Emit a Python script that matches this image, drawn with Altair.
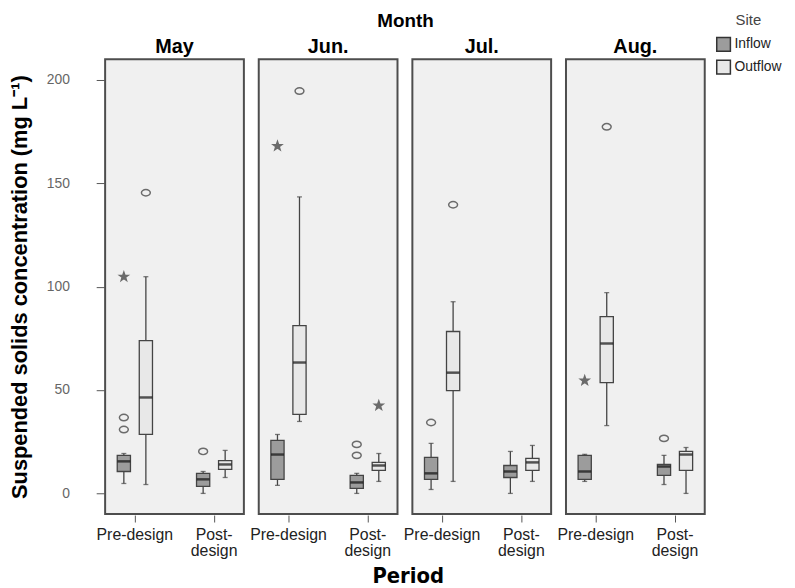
import altair as alt
import pandas as pd

months = ["May", "Jun.", "Jul.", "Aug."]
periods = ["Pre-design", "Post-design"]
sites = ["Inflow", "Outflow"]

# Box statistics (order per month: Pre/Inflow, Pre/Outflow, Post/Inflow, Post/Outflow)
box_month = ["May"] * 4 + ["Jun."] * 4 + ["Jul."] * 4 + ["Aug."] * 4
box_period = ["Pre-design", "Pre-design", "Post-design", "Post-design"] * 4
box_site = ["Inflow", "Outflow", "Inflow", "Outflow"] * 4
wlo = [4.8, 4.3, 0.0, 7.7, 3.9, 34.8, 0.0, 5.8, 1.9, 5.8, 0.0, 5.8, 5.8, 32.8, 4.3, 0.0]
q1 = [10.6, 28.5, 3.4, 11.6, 6.8, 38.2, 2.4, 11.1, 6.8, 49.7, 7.7, 11.1, 6.8, 53.6, 8.7, 11.1]
med = [15.5, 46.4, 6.8, 14.0, 18.8, 63.3, 5.3, 13.5, 9.7, 58.4, 10.6, 15.0, 10.6, 72.5, 13.0, 18.8]
q3 = [18.4, 73.9, 9.7, 15.9, 25.6, 81.1, 8.7, 15.0, 17.4, 78.3, 13.5, 16.9, 18.4, 85.5, 14.0, 20.3]
whi = [19.3, 104.8, 10.6, 20.8, 28.5, 143.4, 9.7, 19.3, 24.2, 92.7, 20.3, 23.2, 18.9, 97.1, 18.4, 22.2]

# Outliers (circle) and extremes (star)
out_month = ["May", "May", "May", "May", "May", "Jun.", "Jun.", "Jun.", "Jun.", "Jun.",
             "Jul.", "Jul.", "Aug.", "Aug.", "Aug."]
out_period = ["Pre-design", "Pre-design", "Pre-design", "Pre-design", "Post-design",
              "Pre-design", "Pre-design", "Post-design", "Post-design", "Post-design",
              "Pre-design", "Pre-design", "Pre-design", "Pre-design", "Post-design"]
out_site = ["Inflow", "Inflow", "Inflow", "Outflow", "Inflow",
            "Inflow", "Outflow", "Inflow", "Inflow", "Outflow",
            "Inflow", "Outflow", "Inflow", "Outflow", "Inflow"]
out_value = [36.7, 30.9, 104.8, 145.4, 20.3, 168.0, 194.6, 23.7, 18.4, 42.5,
             34.3, 139.6, 54.6, 177.3, 26.6]
out_kind = ["circle", "circle", "star", "circle", "circle", "star", "circle", "circle", "circle", "star",
            "circle", "circle", "star", "circle", "circle"]

box_df = pd.DataFrame({"Month": box_month, "Period": box_period, "Site": box_site,
                       "wlo": wlo, "q1": q1, "med": med, "q3": q3, "whi": whi, "type": "box"})
out_df = pd.DataFrame({"Month": out_month, "Period": out_period, "Site": out_site,
                       "value": out_value, "kind": out_kind, "type": "out"})
df = pd.concat([box_df, out_df], ignore_index=True)

STAR = ("M0,-1L0.235,-0.324L0.951,-0.309L0.38,0.124L0.588,0.809L0,0.4"
        "L-0.588,0.809L-0.38,0.124L-0.951,-0.309L-0.235,-0.324Z")
ELLIPSE = "M-1,0A1,0.72,0,1,1,1,0A1,0.72,0,1,1,-1,0Z"

x_enc = alt.X("Period:N", sort=periods, title=None,
              scale=alt.Scale(paddingInner=0.5, paddingOuter=0.125),
              axis=alt.Axis(labelAngle=0, domain=False, tickSize=7, tickColor="#555555",
                            labelColor="#222222", labelFontSize=16, labelPadding=5,
                            labelLineHeight=16,
                            labelExpr="datum.label == 'Post-design' ? ['Post-', 'design'] : datum.label"))
xo_enc = alt.XOffset("Site:N", sort=sites,
                     scale=alt.Scale(paddingInner=0.4, paddingOuter=0.1))
y_scale = alt.Scale(domain=[-10, 210], nice=False, zero=False)
y_axis = alt.Axis(values=[0, 50, 100, 150, 200], domain=False, tickSize=8, tickColor="#555555",
                  labelColor="#666666", labelFontSize=14, labelPadding=27,
                  title="Suspended solids concentration (mg L\u207b\u00b9)",
                  titleFontSize=22, titleFontWeight="bold", titleColor="#000000", titlePadding=15)

base = alt.Chart().encode(x=x_enc, xOffset=xo_enc)
boxes = base.transform_filter(alt.datum.type == "box")

whisker = boxes.mark_rule(color="#444444", strokeWidth=1.3).encode(
    y=alt.Y("wlo:Q", scale=y_scale, axis=y_axis), y2="whi:Q")
cap_lo = boxes.mark_tick(color="#444444", size=5, thickness=1.3).encode(y=alt.Y("wlo:Q"))
cap_hi = boxes.mark_tick(color="#444444", size=5, thickness=1.3).encode(y=alt.Y("whi:Q"))
bar = boxes.mark_bar(stroke="#444444", strokeWidth=1.3).encode(
    y=alt.Y("q1:Q"), y2="q3:Q",
    color=alt.Color("Site:N", sort=sites,
                    scale=alt.Scale(domain=sites, range=["#9c9c9c", "#e8e8e8"]),
                    legend=alt.Legend(title="Site", orient="none", legendX=616, legendY=-46)))
median = boxes.mark_tick(color="#111111", size=13, thickness=2.5).encode(y=alt.Y("med:Q"))
outl = base.transform_filter(alt.datum.type == "out").mark_point(
    filled=False, stroke="#333333", strokeWidth=1.5, size=80).encode(
    y=alt.Y("value:Q"),
    shape=alt.Shape("kind:N", scale=alt.Scale(domain=["circle", "star"], range=[ELLIPSE, STAR]),
                    legend=None),
    fill=alt.Fill("kind:N", scale=alt.Scale(domain=["circle", "star"], range=["transparent", "#333333"]),
                  legend=None))

layered = alt.layer(whisker, cap_lo, cap_hi, bar, median, outl, data=df).properties(
    width=140, height=459)

chart = layered.facet(
    column=alt.Column("Month:N", sort=months,
                      header=alt.Header(title="Month", titleFontSize=19, titleFontWeight="bold",
                                        titleColor="#000000", titlePadding=-4,
                                        labelFontSize=20, labelFontWeight="bold",
                                        labelColor="#000000", labelPadding=1))
).properties(
    padding={"left": 0, "top": 2, "right": 5, "bottom": 5},
    title=alt.TitleParams("Period", orient="bottom", anchor="middle", fontSize=22,
                          font="DejaVu Sans Condensed, Liberation Sans, sans-serif",
                          fontWeight="bold", color="#000000", offset=8, dx=13)
).configure_view(
    fill="#f0f0f0", stroke="#4d4d4d", strokeWidth=2
).configure_facet(spacing=13).configure_axis(
    grid=False, labelFont="Liberation Sans", titleFont="Liberation Sans"
).configure_header(
    labelFont="Liberation Sans", titleFont="Liberation Sans"
).configure_legend(
    titleFontSize=15, titleFontWeight="normal", titleColor="#444444", titleAnchor="middle",
    titlePadding=8,
    labelFontSize=14, labelColor="#222222", symbolType="square", symbolSize=190,
    symbolStrokeColor="#333333", symbolStrokeWidth=1.5, rowPadding=3, labelOffset=3,
    labelFont="Liberation Sans", titleFont="Liberation Sans"
)

chart.save("out.html", embed_options={"renderer": "svg", "actions": False})
